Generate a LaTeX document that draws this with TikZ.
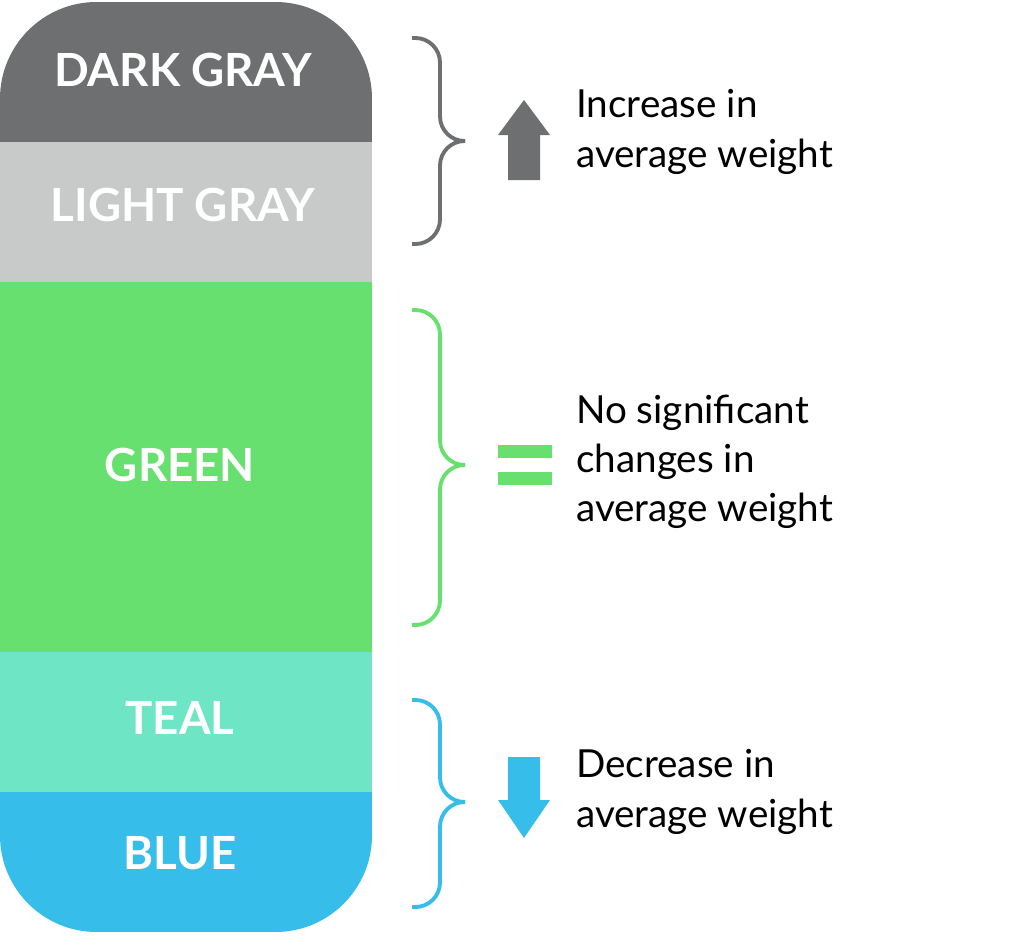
\documentclass[tikz,border=0pt]{standalone}
\usepackage{fontspec}
\setmainfont{Lato}
\usetikzlibrary{positioning}
\definecolor{darkgray}{HTML}{6D6F70}
\definecolor{lightgray}{HTML}{C8C9C9}
\definecolor{grn}{HTML}{68E06F}
\definecolor{teal}{HTML}{6EE6C5}
\definecolor{blu}{HTML}{36BDE9}
\tikzset{
  band/.style={white,font=\fontsize{26}{30}\selectfont\bfseries},
  note/.style={anchor=west,align=left,font=\fontsize{22}{28}\selectfont},
  brace/.style={line width=2.2pt,rounded corners=14}
}
\begin{document}
\begin{tikzpicture}[x=0.02cm,y=-0.02cm]
   \useasboundingbox (0,0) rectangle (1030,936);
   % bar
   \begin{scope}
     \clip[rounded corners=55] (0,2) rectangle (372,932);
     \fill[darkgray] (0,2) rectangle (372,142);
     \fill[lightgray] (0,142) rectangle (372,282);
     \fill[grn] (0,282) rectangle (372,652);
     \fill[teal] (0,652) rectangle (372,792);
     \fill[blu] (0,792) rectangle (372,932);
   \end{scope}
   \node[band] (dg) at (183,70) {DARK GRAY};
   \node[band] (lg) at (183,205) {LIGHT GRAY};
   \node[band] (gr) at (180,465) {GREEN};
   \node[band] (tl) at (180,718) {TEAL};
   \node[band] (bl) at (180,853) {BLUE};
   % braces
   \draw[brace,darkgray] (412,38) -- (440,38) -- (440,141) -- (465,141);
   \draw[brace,darkgray] (412,244) -- (440,244) -- (440,141) -- (465,141);
   \draw[brace,grn] (412,310) -- (440,310) -- (440,465) -- (465,465);
   \draw[brace,grn] (412,625) -- (440,625) -- (440,465) -- (465,465);
   \draw[brace,blu] (412,700) -- (440,700) -- (440,802) -- (465,802);
   \draw[brace,blu] (412,907) -- (440,907) -- (440,802) -- (465,802);
   % symbols
   \fill[darkgray] (508,180) -- (508,135) -- (498,135) -- (524,100) -- (550,135)
     -- (540,135) -- (540,180) -- cycle;
   \fill[grn] (498,445) rectangle (552,458);
   \fill[grn] (498,472) rectangle (552,485);
   \fill[blu] (508,757) -- (508,800) -- (498,800) -- (524,838) -- (550,800)
     -- (540,800) -- (540,757) -- cycle;
   % notes
   \node[note] (up) at (570,132) {Increase in\\average weight};
   \node[note] (eq) at (570,462) {No significant\\changes in\\average weight};
   \node[note] (dn) at (570,792) {Decrease in\\average weight};
\end{tikzpicture}
\end{document}
